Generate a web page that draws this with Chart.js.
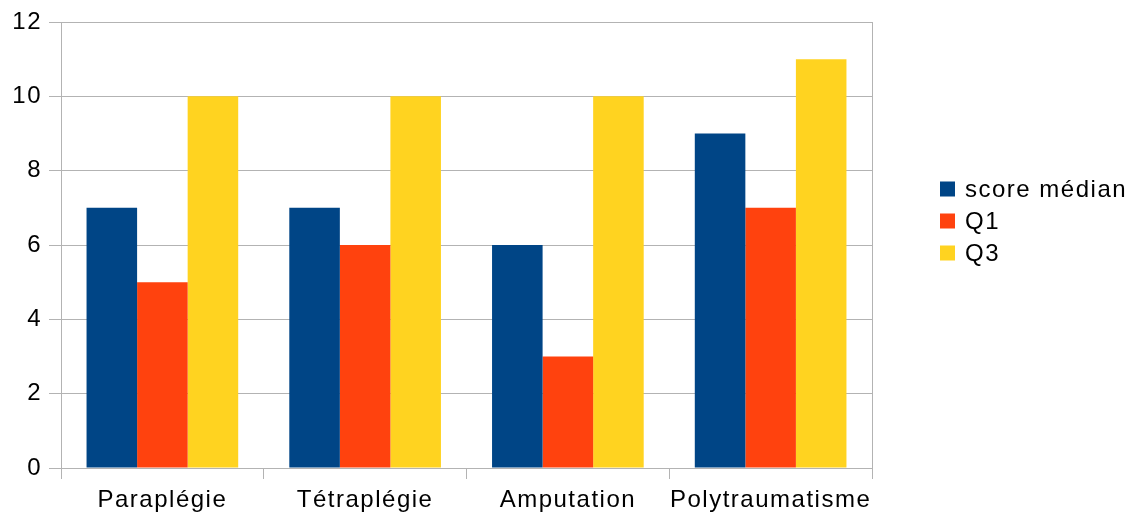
<!DOCTYPE html>
<html>
<head>
<meta charset="utf-8">
<script src="https://cdn.jsdelivr.net/npm/chart.js@4/dist/chart.umd.min.js"></script>
<style>
  html, body { margin: 0; padding: 0; background: #fff; }
  #wrap { width: 1139px; height: 520px; position: relative; }
</style>
</head>
<body>
<div id="wrap"><canvas id="c" width="1139" height="520"></canvas></div>
<script>
const categories = ['Paraplégie', 'Tétraplégie', 'Amputation', 'Polytraumatisme'];
const seriesNames = ['score médian', 'Q1', 'Q3'];
const medianScores = [7, 7, 6, 9];
const q1Scores = [5, 6, 3, 7];
const q3Scores = [10, 10, 10, 11];
const yTicks = [0, 2, 4, 6, 8, 10, 12];

const colors = ['#004586', '#ff420e', '#ffd320'];
const gridColor = '#b3b3b3';
const FONT = '"Liberation Sans", Arial, sans-serif';
const TRACKING = '1.5px';

// Slightly wider letter tracking for all canvas text
const tracking = {
  id: 'tracking',
  beforeDraw(chart) { chart.ctx.letterSpacing = TRACKING; }
};

// Legend on the right and a closing border on the plot's right edge
const sideLegend = {
  id: 'sideLegend',
  afterDraw(chart) {
    const ctx = chart.ctx;
    const area = chart.chartArea;
    ctx.save();
    ctx.strokeStyle = gridColor;
    ctx.lineWidth = 1;
    ctx.beginPath();
    ctx.moveTo(Math.round(area.right) + 0.5, area.top);
    ctx.lineTo(Math.round(area.right) + 0.5, area.bottom);
    ctx.stroke();

    ctx.letterSpacing = TRACKING;
    ctx.font = '24px ' + FONT;
    ctx.textBaseline = 'middle';
    ctx.textAlign = 'left';
    const rowY = [189, 221, 253];
    chart.data.datasets.forEach((ds, i) => {
      ctx.fillStyle = ds.backgroundColor;
      ctx.fillRect(940, rowY[i] - 7.5, 15, 15);
      ctx.fillStyle = '#000';
      ctx.fillText(ds.label, 965, rowY[i] + 1);
    });
    ctx.restore();
  }
};

new Chart(document.getElementById('c'), {
  type: 'bar',
  data: {
    labels: categories,
    datasets: [
      { label: seriesNames[0], data: medianScores, backgroundColor: colors[0] },
      { label: seriesNames[1], data: q1Scores, backgroundColor: colors[1] },
      { label: seriesNames[2], data: q3Scores, backgroundColor: colors[2] }
    ]
  },
  options: {
    responsive: false,
    animation: false,
    devicePixelRatio: 1,
    layout: { padding: { left: 0, right: 267, top: 22, bottom: 0 } },
    datasets: { bar: { categoryPercentage: 0.748, barPercentage: 1.0, borderWidth: 0 } },
    plugins: { legend: { display: false }, tooltip: { enabled: false } },
    scales: {
      x: {
        offset: true,
        grid: { offset: true, drawOnChartArea: false, drawTicks: true, tickLength: 11, color: gridColor, lineWidth: 1 },
        border: { color: gridColor, width: 1 },
        ticks: { color: '#000', font: { family: FONT, size: 24, lineHeight: 1.15 }, padding: 8, maxRotation: 0 },
        afterFit(scale) { scale.height = 52; }
      },
      y: {
        min: 0,
        max: 12,
        afterBuildTicks(scale) { scale.ticks = yTicks.map(v => ({ value: v })); },
        grid: { color: gridColor, lineWidth: 1, tickLength: 12, drawTicks: true },
        border: { color: gridColor, width: 1 },
        ticks: { color: '#000', font: { family: FONT, size: 24 }, padding: 7 },
        afterFit(scale) { scale.width = 61; }
      }
    }
  },
  plugins: [tracking, sideLegend]
});
</script>
</body>
</html>
